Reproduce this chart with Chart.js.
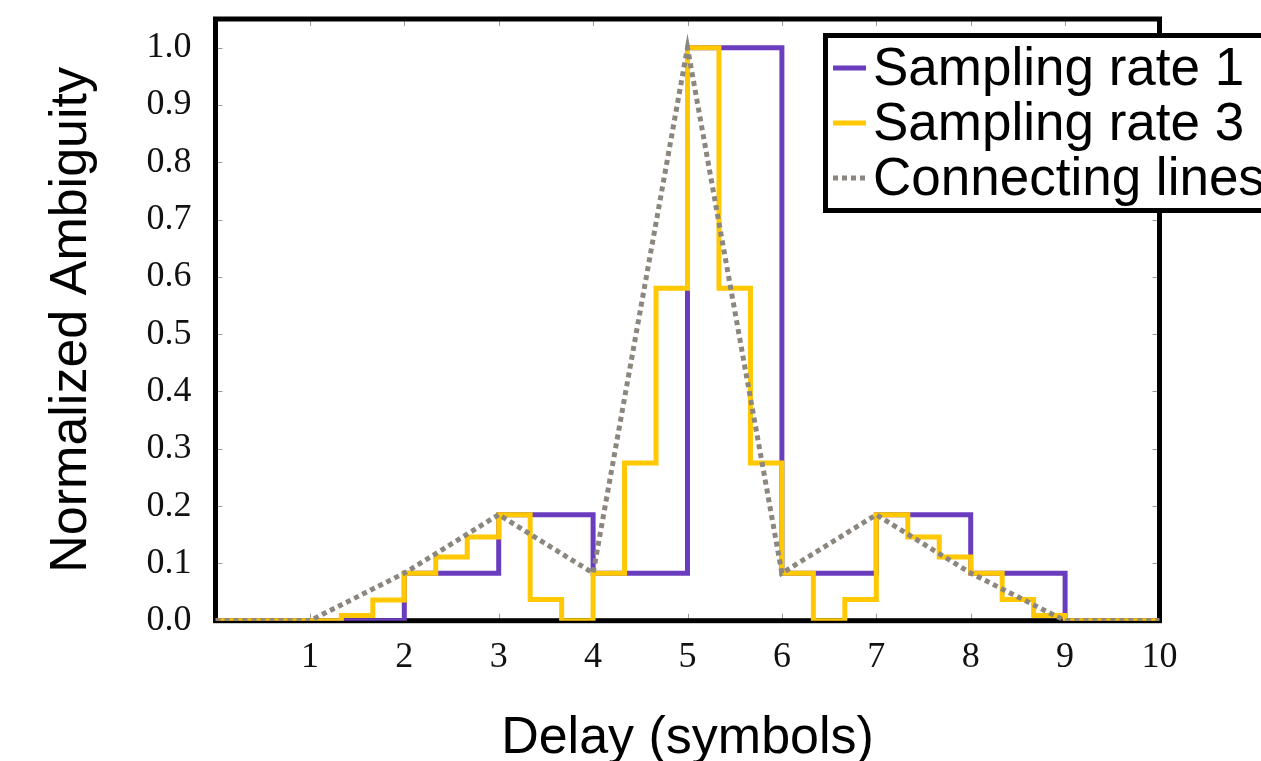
<!DOCTYPE html>
<html>
<head>
<meta charset="utf-8">
<script src="https://cdn.jsdelivr.net/npm/chart.js@4/dist/chart.umd.min.js"></script>
<style>
  html, body { margin: 0; padding: 0; background: #ffffff; }
  #wrap { position: relative; width: 1261px; height: 761px; }
</style>
</head>
<body>
<div id="wrap"><canvas id="chart"></canvas></div>
<script>
// Delay samples (in symbols) for each sampling rate
const delaysRate1 = [0, 1, 2, 3, 4, 5, 6, 7, 8, 9, 10];
const ambiguityRate1 = [0, 0, 0.083, 0.185, 0.083, 1.0, 0.083, 0.185, 0.083, 0, 0];

const delaysRate3 = [
  0, 1/3, 2/3, 1, 4/3, 5/3, 2, 7/3, 8/3, 3, 10/3, 11/3, 4, 13/3, 14/3, 5,
  16/3, 17/3, 6, 19/3, 20/3, 7, 22/3, 23/3, 8, 25/3, 26/3, 9, 28/3, 29/3, 10
];
const ambiguityRate3 = [
  0, 0, 0, 0, 0.009, 0.036, 0.083, 0.111, 0.146, 0.185, 0.037, 0, 0.083, 0.275, 0.58, 1.0,
  0.58, 0.275, 0.083, 0, 0.037, 0.185, 0.146, 0.111, 0.083, 0.037, 0.009, 0, 0, 0, 0
];

// Axis ticks
const xTicks = [1, 2, 3, 4, 5, 6, 7, 8, 9, 10];
const yTicks = [0, 0.1, 0.2, 0.3, 0.4, 0.5, 0.6, 0.7, 0.8, 0.9, 1.0];

const seriesLabels = ['Sampling rate 1', 'Sampling rate 3', 'Connecting lines'];

const toPoints = (xs, ys) => xs.map((x, i) => ({ x: x, y: ys[i] }));

const PURPLE = '#6a3cbe';
const YELLOW = '#ffc800';
const GREY = '#8b867e';

// Black frame around the plot area with short inward tick marks
const framePlugin = {
  id: 'frame',
  beforeDatasetsDraw(chart) {
    const { ctx, chartArea: a, scales } = chart;
    ctx.save();
    ctx.strokeStyle = '#9a9a9a';
    ctx.lineWidth = 1;
    ctx.beginPath();
    xTicks.forEach(v => {
      const px = Math.round(scales.x.getPixelForValue(v)) + 0.5;
      ctx.moveTo(px, a.top); ctx.lineTo(px, a.top + 7);
      ctx.moveTo(px, a.bottom); ctx.lineTo(px, a.bottom - 7);
    });
    yTicks.forEach(v => {
      const py = Math.round(scales.y.getPixelForValue(v)) + 0.5;
      ctx.moveTo(a.left, py); ctx.lineTo(a.left + 7, py);
      ctx.moveTo(a.right, py); ctx.lineTo(a.right - 7, py);
    });
    ctx.stroke();
    ctx.strokeStyle = '#000000';
    ctx.lineWidth = 5;
    ctx.strokeRect(a.left, a.top, a.right - a.left, a.bottom - a.top);
    ctx.restore();
  }
};

// Boxed legend in the upper right corner
const boxLegendPlugin = {
  id: 'boxLegend',
  afterDraw(chart) {
    const { ctx } = chart;
    const left = 825.5, top = 35.5, bottom = 210.5;
    ctx.save();
    ctx.fillStyle = '#ffffff';
    ctx.fillRect(left, top, 1400 - left, bottom - top);
    ctx.strokeStyle = '#000000';
    ctx.lineWidth = 5;
    ctx.strokeRect(left, top, 1400 - left, bottom - top);
    ctx.font = '53px "Liberation Sans", Arial, sans-serif';
    ctx.textBaseline = 'alphabetic';
    ctx.textAlign = 'left';
    chart.data.datasets.forEach((ds, i) => {
      const base = 85 + i * 55;
      const midY = base - 17;
      ctx.beginPath();
      ctx.strokeStyle = ds.borderColor;
      ctx.lineWidth = ds.borderWidth;
      ctx.setLineDash(ds.borderDash || []);
      ctx.moveTo(833, midY);
      ctx.lineTo(866, midY);
      ctx.stroke();
      ctx.setLineDash([]);
      ctx.fillStyle = '#000000';
      ctx.fillText(ds.label, 873, base);
    });
    ctx.restore();
  }
};

new Chart(document.getElementById('chart'), {
  type: 'line',
  data: {
    datasets: [
      {
        label: seriesLabels[0],
        data: toPoints(delaysRate1, ambiguityRate1),
        borderColor: PURPLE,
        borderWidth: 5,
        stepped: 'before',
        pointRadius: 0,
        fill: false,
        order: 3
      },
      {
        label: seriesLabels[1],
        data: toPoints(delaysRate3, ambiguityRate3),
        borderColor: YELLOW,
        borderWidth: 5,
        stepped: 'before',
        pointRadius: 0,
        fill: false,
        order: 2
      },
      {
        label: seriesLabels[2],
        data: toPoints(delaysRate1, ambiguityRate1),
        borderColor: GREY,
        borderWidth: 5,
        borderDash: [5, 4],
        borderCapStyle: 'butt',
        tension: 0,
        pointRadius: 0,
        fill: false,
        order: 1
      }
    ]
  },
  options: {
    responsive: true,
    maintainAspectRatio: false,
    animation: false,
    layout: { padding: { left: 0, top: 19, right: 101.5, bottom: 0 } },
    plugins: {
      legend: { display: false },
      tooltip: { enabled: false }
    },
    scales: {
      x: {
        type: 'linear',
        min: 0,
        max: 10,
        afterFit(scale) {
          scale.height = 140.3;
          scale.paddingLeft = 0;
          scale.paddingRight = 0;
        },
        afterBuildTicks(scale) { scale.ticks = xTicks.map(v => ({ value: v })); },
        grid: { display: false, drawTicks: false },
        border: { display: false },
        ticks: {
          padding: 15,
          color: '#111111',
          font: { family: '"Liberation Serif", "Times New Roman", serif', size: 36 },
          callback: v => String(v)
        },
        title: {
          display: true,
          text: 'Delay (symbols)',
          color: '#000000',
          font: { family: '"Liberation Sans", Arial, sans-serif', size: 52, lineHeight: 0.8 },
          padding: { top: 0, bottom: 1.2 }
        }
      },
      y: {
        type: 'linear',
        min: 0,
        max: 1.05,
        afterFit(scale) {
          scale.width = 215.5;
          scale.paddingTop = 0;
          scale.paddingBottom = 0;
        },
        afterBuildTicks(scale) { scale.ticks = yTicks.map(v => ({ value: v })); },
        grid: { display: false, drawTicks: false },
        border: { display: false },
        ticks: {
          padding: 24,
          color: '#111111',
          font: { family: '"Liberation Serif", "Times New Roman", serif', size: 36 },
          callback: v => Number(v).toFixed(1)
        },
        title: {
          display: true,
          text: 'Normalized Ambiguity',
          color: '#000000',
          font: { family: '"Liberation Sans", Arial, sans-serif', size: 52, lineHeight: 1.2 },
          padding: { top: 40, bottom: 0 }
        }
      }
    }
  },
  plugins: [framePlugin, boxLegendPlugin]
});
</script>
</body>
</html>
